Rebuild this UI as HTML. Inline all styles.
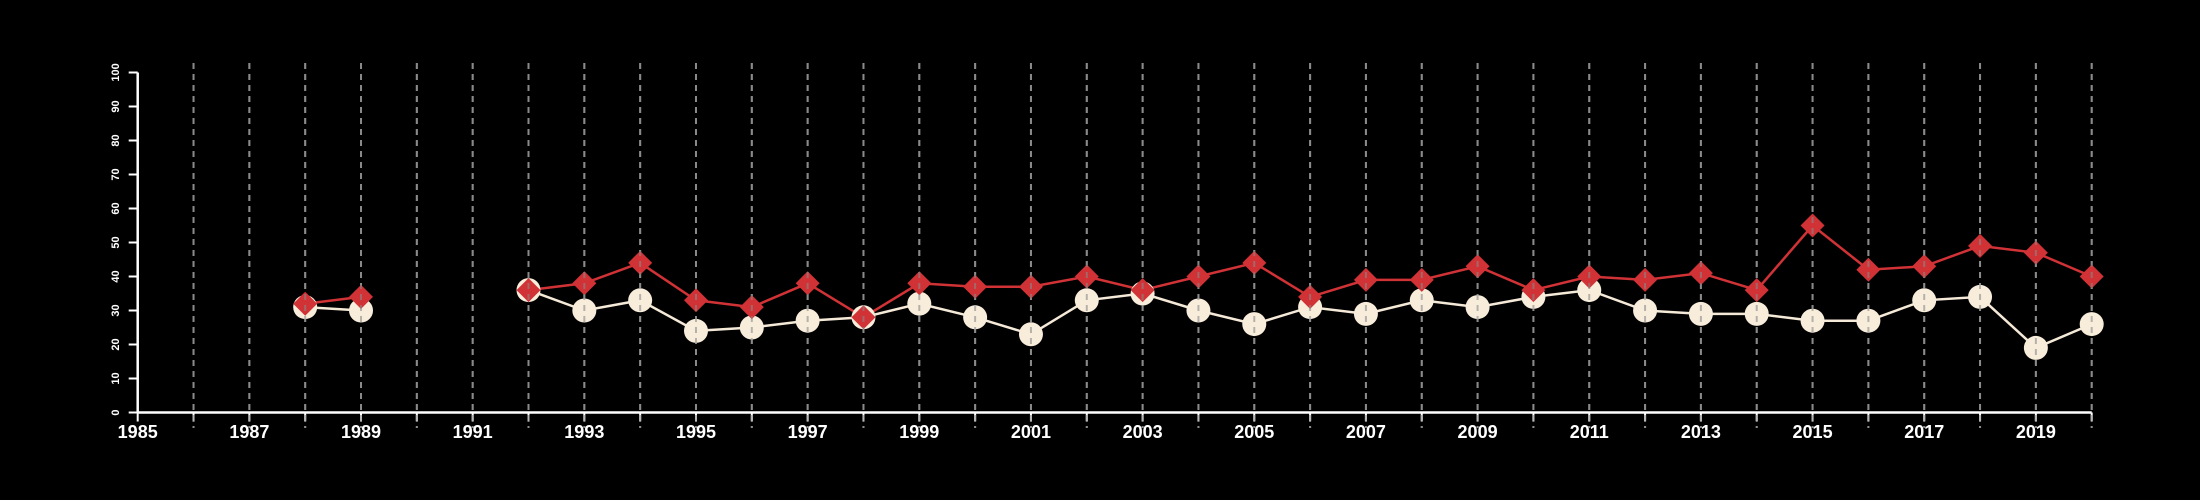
<!DOCTYPE html>
<html><head><meta charset="utf-8"><style>
html,body{margin:0;padding:0;background:#000;}
svg{display:block;}
text{font-family:"Liberation Sans",sans-serif;fill:#fff;}
</style></head><body>
<svg id="chart" width="2200" height="500" viewBox="0 0 2200 500" xmlns="http://www.w3.org/2000/svg">
<rect width="2200" height="500" fill="#000"/>
<g id="grid"></g>
<g id="axes"></g>
<g id="series"></g>
</svg>
<script>
const years = [1988,1989,1990,1991,1992,1993,1994,1995,1996,1997,1998,1999,2000,2001,2002,2003,2004,2005,2006,2007,2008,2009,2010,2011,2012,2013,2014,2015,2016,2017,2018,2019,2020];
const whiteValues = [31,30,null,null,36,30,33,24,25,27,28,32,28,23,33,35,30,26,31,29,33,31,34,36,30,29,29,27,27,33,34,19,26];
const redValues = [32,34,null,null,36,38,44,33,31,38,28,38,37,37,40,36,40,44,34,39,39,43,36,40,39,41,36,55,42,43,49,47,40];
const yTicks = [0,10,20,30,40,50,60,70,80,90,100];
const xTickLabels = [1985,1987,1989,1991,1993,1995,1997,1999,2001,2003,2005,2007,2009,2011,2013,2015,2017,2019];

const NS = "http://www.w3.org/2000/svg";
const x0 = 137.7, x1 = 2091.7, yr0 = 1985, yr1 = 2020;
const yBase = 412.5, yTop = 72.5;
const xs = v => x0 + (v - yr0) * (x1 - x0) / (yr1 - yr0);
const ys = v => yBase - v * (yBase - yTop) / 100;
function mk(tag, attrs, parent) {
  const e = document.createElementNS(NS, tag);
  for (const k in attrs) e.setAttribute(k, attrs[k]);
  parent.appendChild(e);
  return e;
}
const grid = document.getElementById('grid');
const axes = document.getElementById('axes');
const series = document.getElementById('series');

// axes
let ax = mk('line', {x1: x0, y1: yBase, x2: x1, y2: yBase, stroke: '#fff', 'stroke-width': 2.5}, axes);


ax = mk('line', {x1: x0, y1: yBase, x2: x0, y2: yTop, stroke: '#fff', 'stroke-width': 2.5}, axes);



for (let yv = yr0; yv <= yr1; yv++) {
  const t = mk('line', {x1: xs(yv), y1: yBase, x2: xs(yv), y2: yBase + 9, stroke: '#fff', 'stroke-width': 2}, axes);
  
  
  if (yv > yr0) {
    const g = mk('line', {x1: xs(yv), y1: 63, x2: xs(yv), y2: 428, stroke: '#8a8a8a', 'stroke-width': 2, 'stroke-dasharray': '6,5'}, grid);
    
    
  }
}
xTickLabels.forEach(v => {
  const t = mk('text', {x: xs(v), y: 438, 'text-anchor': 'middle', 'font-size': 18, 'font-weight': 'bold'}, axes);
  t.textContent = v;
  
  
});
yTicks.forEach(v => {
  const t = mk('line', {x1: x0 - 9, y1: ys(v), x2: x0, y2: ys(v), stroke: '#fff', 'stroke-width': 2}, axes);
  
  
  const l = mk('text', {x: 0, y: 0, 'text-anchor': 'middle', 'font-size': 11, 'font-weight': 'bold', transform: 'translate(119,' + ys(v) + ') rotate(-90)'}, axes);
  l.textContent = v;
  
  
});

function drawLine(vals, color, name) {
  let seg = [];
  const segs = [];
  vals.forEach((v, i) => {
    if (v == null) { if (seg.length) segs.push(seg); seg = []; }
    else seg.push(xs(years[i]) + ',' + ys(v));
  });
  if (seg.length) segs.push(seg);
  segs.forEach(s => {
    const p = mk('polyline', {points: s.join(' '), fill: 'none', stroke: color, 'stroke-width': 2.5}, series);
    
    
  });
}
drawLine(whiteValues, '#f5e9d8', 'white-series-line');
drawLine(redValues, '#d03236', 'red-series-line');
whiteValues.forEach((v, i) => {
  if (v == null) return;
  const c = mk('circle', {cx: xs(years[i]), cy: ys(v), r: 12, fill: '#f8ecdb'}, series);
  
  
});
redValues.forEach((v, i) => {
  if (v == null) return;
  const cx = xs(years[i]), cy = ys(v), r = 12;
  const d = mk('polygon', {points: `${cx},${cy-r} ${cx+r},${cy} ${cx},${cy+r} ${cx-r},${cy}`, fill: '#d03236'}, series);
  
  
});
// gridlines drawn over markers in reference
const overlay = grid.cloneNode(true);
overlay.setAttribute('opacity', '0.6');


series.appendChild(overlay);
</script>
</body></html>
